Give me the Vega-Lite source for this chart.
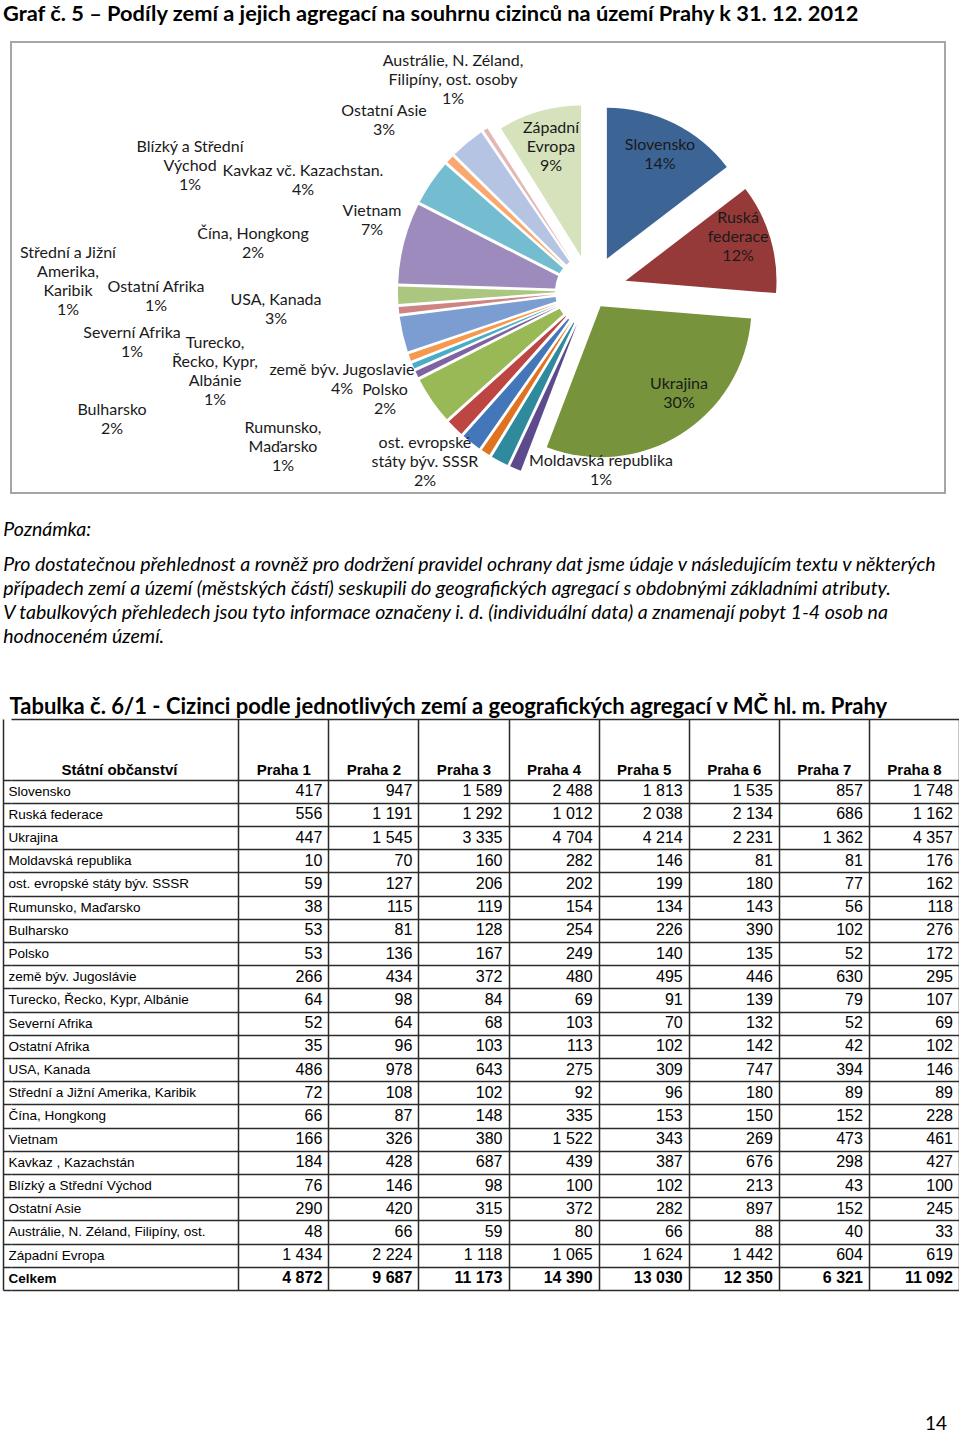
{
  "$schema": "https://vega.github.io/schema/vega-lite/v6.json",
  "background": "#ffffff",
  "padding": {"left": 2, "right": 0, "top": 3, "bottom": 0},
  "spacing": 26,
  "datasets": {
    "pie": [
      {"k": "Slovensko", "v": 14.6, "ord": 1, "lab": "Slovensko\n14%"},
      {"k": "Ruská federace", "v": 11.7, "ord": 2, "lab": "Ruská\nfederace\n12%"},
      {"k": "Ukrajina", "v": 29.5, "ord": 3, "lab": "Ukrajina\n30%"},
      {"k": "Moldavská republika", "v": 1.2, "ord": 4, "lab": "Moldavská republika\n1%"},
      {"k": "ost. evropské státy býv. SSSR", "v": 1.7, "ord": 5, "lab": "ost. evropské\nstáty býv. SSSR\n2%"},
      {"k": "Rumunsko, Maďarsko", "v": 1.0, "ord": 6, "lab": "Rumunsko,\nMaďarsko\n1%"},
      {"k": "Bulharsko", "v": 1.9, "ord": 7, "lab": "Bulharsko\n2%"},
      {"k": "Polsko", "v": 1.7, "ord": 8, "lab": "Polsko\n2%"},
      {"k": "země býv. Jugoslavie", "v": 4.2, "ord": 9, "lab": "země býv. Jugoslavie\n4%"},
      {"k": "Turecko, Řecko, Kypr, Albánie", "v": 0.8, "ord": 10, "lab": "Turecko,\nŘecko, Kypr,\nAlbánie\n1%"},
      {"k": "Severní Afrika", "v": 0.7, "ord": 11, "lab": "Severní Afrika\n1%"},
      {"k": "Ostatní Afrika", "v": 0.8, "ord": 12, "lab": "Ostatní Afrika\n1%"},
      {"k": "USA, Kanada", "v": 3.2, "ord": 13, "lab": "USA, Kanada\n3%"},
      {"k": "Střední a Jižní Amerika, Karibik", "v": 0.8, "ord": 14, "lab": "Střední a Jižní\nAmerika,\nKaribik\n1%"},
      {"k": "Čína, Hongkong", "v": 1.7, "ord": 15, "lab": "Čína, Hongkong\n2%"},
      {"k": "Vietnam", "v": 7.0, "ord": 16, "lab": "Vietnam\n7%"},
      {"k": "Kavkaz vč. Kazachstan.", "v": 4.0, "ord": 17, "lab": "Kavkaz vč. Kazachstan.\n4%"},
      {"k": "Blízký a Střední Východ", "v": 0.9, "ord": 18, "lab": "Blízký a Střední\nVýchod\n1%"},
      {"k": "Ostatní Asie", "v": 3.1, "ord": 19, "lab": "Ostatní Asie\n3%"},
      {"k": "Austrálie, N. Zéland, Filipíny, ost. osoby", "v": 0.6, "ord": 20, "lab": "Austrálie, N. Zéland,\nFilipíny, ost. osoby\n1%"},
      {"k": "Západní Evropa", "v": 8.9, "ord": 21, "lab": "Západní\nEvropa\n9%"}
    ],
    "tab": [
      {"n": "Slovensko", "Praha 1": 417, "Praha 2": 947, "Praha 3": 1589, "Praha 4": 2488, "Praha 5": 1813, "Praha 6": 1535, "Praha 7": 857, "Praha 8": 1748},
      {"n": "Ruská federace", "Praha 1": 556, "Praha 2": 1191, "Praha 3": 1292, "Praha 4": 1012, "Praha 5": 2038, "Praha 6": 2134, "Praha 7": 686, "Praha 8": 1162},
      {"n": "Ukrajina", "Praha 1": 447, "Praha 2": 1545, "Praha 3": 3335, "Praha 4": 4704, "Praha 5": 4214, "Praha 6": 2231, "Praha 7": 1362, "Praha 8": 4357},
      {"n": "Moldavská republika", "Praha 1": 10, "Praha 2": 70, "Praha 3": 160, "Praha 4": 282, "Praha 5": 146, "Praha 6": 81, "Praha 7": 81, "Praha 8": 176},
      {"n": "ost. evropské  státy býv. SSSR", "Praha 1": 59, "Praha 2": 127, "Praha 3": 206, "Praha 4": 202, "Praha 5": 199, "Praha 6": 180, "Praha 7": 77, "Praha 8": 162},
      {"n": "Rumunsko, Maďarsko", "Praha 1": 38, "Praha 2": 115, "Praha 3": 119, "Praha 4": 154, "Praha 5": 134, "Praha 6": 143, "Praha 7": 56, "Praha 8": 118},
      {"n": "Bulharsko", "Praha 1": 53, "Praha 2": 81, "Praha 3": 128, "Praha 4": 254, "Praha 5": 226, "Praha 6": 390, "Praha 7": 102, "Praha 8": 276},
      {"n": "Polsko", "Praha 1": 53, "Praha 2": 136, "Praha 3": 167, "Praha 4": 249, "Praha 5": 140, "Praha 6": 135, "Praha 7": 52, "Praha 8": 172},
      {"n": "země býv. Jugoslávie", "Praha 1": 266, "Praha 2": 434, "Praha 3": 372, "Praha 4": 480, "Praha 5": 495, "Praha 6": 446, "Praha 7": 630, "Praha 8": 295},
      {"n": "Turecko, Řecko, Kypr, Albánie", "Praha 1": 64, "Praha 2": 98, "Praha 3": 84, "Praha 4": 69, "Praha 5": 91, "Praha 6": 139, "Praha 7": 79, "Praha 8": 107},
      {"n": "Severní Afrika", "Praha 1": 52, "Praha 2": 64, "Praha 3": 68, "Praha 4": 103, "Praha 5": 70, "Praha 6": 132, "Praha 7": 52, "Praha 8": 69},
      {"n": "Ostatní Afrika", "Praha 1": 35, "Praha 2": 96, "Praha 3": 103, "Praha 4": 113, "Praha 5": 102, "Praha 6": 142, "Praha 7": 42, "Praha 8": 102},
      {"n": "USA, Kanada", "Praha 1": 486, "Praha 2": 978, "Praha 3": 643, "Praha 4": 275, "Praha 5": 309, "Praha 6": 747, "Praha 7": 394, "Praha 8": 146},
      {"n": "Střední a Jižní Amerika, Karibik", "Praha 1": 72, "Praha 2": 108, "Praha 3": 102, "Praha 4": 92, "Praha 5": 96, "Praha 6": 180, "Praha 7": 89, "Praha 8": 89},
      {"n": "Čína, Hongkong", "Praha 1": 66, "Praha 2": 87, "Praha 3": 148, "Praha 4": 335, "Praha 5": 153, "Praha 6": 150, "Praha 7": 152, "Praha 8": 228},
      {"n": "Vietnam", "Praha 1": 166, "Praha 2": 326, "Praha 3": 380, "Praha 4": 1522, "Praha 5": 343, "Praha 6": 269, "Praha 7": 473, "Praha 8": 461},
      {"n": "Kavkaz , Kazachstán", "Praha 1": 184, "Praha 2": 428, "Praha 3": 687, "Praha 4": 439, "Praha 5": 387, "Praha 6": 676, "Praha 7": 298, "Praha 8": 427},
      {"n": "Blízký a Střední Východ", "Praha 1": 76, "Praha 2": 146, "Praha 3": 98, "Praha 4": 100, "Praha 5": 102, "Praha 6": 213, "Praha 7": 43, "Praha 8": 100},
      {"n": "Ostatní Asie", "Praha 1": 290, "Praha 2": 420, "Praha 3": 315, "Praha 4": 372, "Praha 5": 282, "Praha 6": 897, "Praha 7": 152, "Praha 8": 245},
      {"n": "Austrálie, N. Zéland, Filipíny, ost.", "Praha 1": 48, "Praha 2": 66, "Praha 3": 59, "Praha 4": 80, "Praha 5": 66, "Praha 6": 88, "Praha 7": 40, "Praha 8": 33},
      {"n": "Západní Evropa", "Praha 1": 1434, "Praha 2": 2224, "Praha 3": 1118, "Praha 4": 1065, "Praha 5": 1624, "Praha 6": 1442, "Praha 7": 604, "Praha 8": 619},
      {"n": "Celkem", "Praha 1": 4872, "Praha 2": 9687, "Praha 3": 11173, "Praha 4": 14390, "Praha 5": 13030, "Praha 6": 12350, "Praha 7": 6321, "Praha 8": 11092}
    ]
  },
  "title": {"text": "14", "orient": "bottom", "anchor": "end", "font": "Lato", "fontSize": 19, "fontWeight": "normal", "color": "#000000", "offset": 124, "dx": -12},
  "config": {
    "font": "Lato",
    "view": {"stroke": null},
    "locale": {"number": {"decimal": ",", "thousands": " ", "grouping": [3], "currency": ["", " Kč"]}},
    "title": {"color": "#000000"},
    "axis": {"labelColor": "#000000", "titleColor": "#000000"},
    "text": {"font": "Lato", "fontSize": 16, "lineHeight": 19, "lineBreak": "\n", "align": "center", "baseline": "middle"}
  },
  "vconcat": [
    {
      "width": 934,
      "height": 451,
      "view": {"stroke": "#a6a6a6", "strokeWidth": 2},
      "title": {"text": "Graf č. 5 – Podíly zemí a jejich agregací na souhrnu cizinců na území Prahy k 31. 12. 2012", "anchor": "start", "dx": -8, "font": "Lato", "fontSize": 21.8, "fontWeight": "bold", "color": "#000000", "offset": 16},
      "data": {"name": "pie"},
      "encoding": {
        "theta": {"field": "v", "type": "quantitative", "stack": true},
        "order": {"field": "ord", "type": "quantitative"},
        "color": {"field": "k", "type": "nominal", "legend": null, "scale": {
          "domain": ["Slovensko", "Ruská federace", "Ukrajina", "Moldavská republika", "ost. evropské státy býv. SSSR", "Rumunsko, Maďarsko", "Bulharsko", "Polsko", "země býv. Jugoslavie", "Turecko, Řecko, Kypr, Albánie", "Severní Afrika", "Ostatní Afrika", "USA, Kanada", "Střední a Jižní Amerika, Karibik", "Čína, Hongkong", "Vietnam", "Kavkaz vč. Kazachstan.", "Blízký a Střední Východ", "Ostatní Asie", "Austrálie, N. Zéland, Filipíny, ost. osoby", "Západní Evropa"],
          "range": ["#3c6596", "#953a39", "#77933c", "#5c4a8c", "#2f8a9e", "#e0731f", "#4477b9", "#bd4643", "#98b955", "#7e62a1", "#4aacc6", "#f6984d", "#7c9dd1", "#cd8482", "#abc67e", "#9d8bbd", "#74bdd1", "#f9a96d", "#b5c4e2", "#e3b7b6", "#d5e2bc"]
        }}
      },
      "layer": [
        {"mark": {"type": "arc", "innerRadius": 36, "outerRadius": 193, "padAngle": 0.015, "xOffset": 113, "yOffset": 23.5},
         "encoding": {"opacity": {"condition": {"test": "indexof(['Slovensko','Ruská federace','Ukrajina','Západní Evropa'], datum.k) >= 0", "value": 0}, "value": 1}}},
        {"mark": {"type": "arc", "outerRadius": 151, "xOffset": 128.9, "yOffset": -8.8},
         "encoding": {"opacity": {"condition": {"test": "datum.k === 'Slovensko'", "value": 1}, "value": 0}}},
        {"mark": {"type": "arc", "outerRadius": 151, "xOffset": 147.5, "yOffset": 13.3},
         "encoding": {"opacity": {"condition": {"test": "datum.k === 'Ruská federace'", "value": 1}, "value": 0}}},
        {"mark": {"type": "arc", "outerRadius": 151, "xOffset": 122.6, "yOffset": 38.7},
         "encoding": {"opacity": {"condition": {"test": "datum.k === 'Ukrajina'", "value": 1}, "value": 0}}},
        {"mark": {"type": "arc", "outerRadius": 151, "xOffset": 103.1, "yOffset": -11.1},
         "encoding": {"opacity": {"condition": {"test": "datum.k === 'Západní Evropa'", "value": 1}, "value": 0}}},

        {"mark": {"type": "text", "radius": 100, "xOffset": 128.9, "yOffset": -8.8, "dx": 8.8, "dy": -24.5},
         "encoding": {"color": {"value": "#1a1a1a"}, "detail": {"field": "k"}, "text": {"condition": {"test": "datum.k === 'Slovensko'", "field": "lab", "type": "nominal"}, "value": ""}}},
        {"mark": {"type": "text", "radius": 100, "xOffset": 147.5, "yOffset": 13.3, "dx": 16.6, "dy": -34.1},
         "encoding": {"color": {"value": "#1a1a1a"}, "detail": {"field": "k"}, "text": {"condition": {"test": "datum.k === 'Ruská federace'", "field": "lab", "type": "nominal"}, "value": ""}}},
        {"mark": {"type": "text", "radius": 100, "xOffset": 122.6, "yOffset": 38.7, "dx": 25.1, "dy": -6.8},
         "encoding": {"color": {"value": "#1a1a1a"}, "detail": {"field": "k"}, "text": {"condition": {"test": "datum.k === 'Ukrajina'", "field": "lab", "type": "nominal"}, "value": ""}}},
        {"mark": {"type": "text", "radius": 100, "xOffset": 103.1, "yOffset": -11.1, "dx": -2.5, "dy": -32.3},
         "encoding": {"color": {"value": "#1a1a1a"}, "detail": {"field": "k"}, "text": {"condition": {"test": "datum.k === 'Západní Evropa'", "field": "lab", "type": "nominal"}, "value": ""}}},

        {"mark": {"type": "text", "radius": 175, "xOffset": 113, "yOffset": 23.5, "dx": 78.5, "dy": 9},
         "encoding": {"color": {"value": "#1a1a1a"}, "detail": {"field": "k"}, "text": {"condition": {"test": "datum.k === 'Moldavská republika'", "field": "lab", "type": "nominal"}, "value": ""}}},
        {"mark": {"type": "text", "radius": 175, "xOffset": 113, "yOffset": 23.5, "dx": -83.2, "dy": -2.1},
         "encoding": {"color": {"value": "#1a1a1a"}, "detail": {"field": "k"}, "text": {"condition": {"test": "datum.k === 'ost. evropské státy býv. SSSR'", "field": "lab", "type": "nominal"}, "value": ""}}},
        {"mark": {"type": "text", "radius": 175, "xOffset": 113, "yOffset": 23.5, "dx": -212.4, "dy": -9.1},
         "encoding": {"color": {"value": "#1a1a1a"}, "detail": {"field": "k"}, "text": {"condition": {"test": "datum.k === 'Rumunsko, Maďarsko'", "field": "lab", "type": "nominal"}, "value": ""}}},
        {"mark": {"type": "text", "radius": 175, "xOffset": 113, "yOffset": 23.5, "dx": -370.4, "dy": -17.8},
         "encoding": {"color": {"value": "#1a1a1a"}, "detail": {"field": "k"}, "text": {"condition": {"test": "datum.k === 'Bulharsko'", "field": "lab", "type": "nominal"}, "value": ""}}},
        {"mark": {"type": "text", "radius": 175, "xOffset": 113, "yOffset": 23.5, "dx": -82.6, "dy": -25.1},
         "encoding": {"color": {"value": "#1a1a1a"}, "detail": {"field": "k"}, "text": {"condition": {"test": "datum.k === 'Polsko'", "field": "lab", "type": "nominal"}, "value": ""}}},
        {"mark": {"type": "text", "radius": 175, "xOffset": 113, "yOffset": 23.5, "dx": -104.9, "dy": -19.8},
         "encoding": {"color": {"value": "#1a1a1a"}, "detail": {"field": "k"}, "text": {"condition": {"test": "datum.k === 'země býv. Jugoslavie'", "field": "lab", "type": "nominal"}, "value": ""}}},
        {"mark": {"type": "text", "radius": 175, "xOffset": 113, "yOffset": 23.5, "dx": -218.1, "dy": -24},
         "encoding": {"color": {"value": "#1a1a1a"}, "detail": {"field": "k"}, "text": {"condition": {"test": "datum.k === 'Turecko, Řecko, Kypr, Albánie'", "field": "lab", "type": "nominal"}, "value": ""}}},
        {"mark": {"type": "text", "radius": 175, "xOffset": 113, "yOffset": 23.5, "dx": -297.7, "dy": -26},
         "encoding": {"color": {"value": "#1a1a1a"}, "detail": {"field": "k"}, "text": {"condition": {"test": "datum.k === 'Severní Afrika'", "field": "lab", "type": "nominal"}, "value": ""}}},
        {"mark": {"type": "text", "radius": 175, "xOffset": 113, "yOffset": 23.5, "dx": -270.7, "dy": -64.3},
         "encoding": {"color": {"value": "#1a1a1a"}, "detail": {"field": "k"}, "text": {"condition": {"test": "datum.k === 'Ostatní Afrika'", "field": "lab", "type": "nominal"}, "value": ""}}},
        {"mark": {"type": "text", "radius": 175, "xOffset": 113, "yOffset": 23.5, "dx": -144.5, "dy": -30.3},
         "encoding": {"color": {"value": "#1a1a1a"}, "detail": {"field": "k"}, "text": {"condition": {"test": "datum.k === 'USA, Kanada'", "field": "lab", "type": "nominal"}, "value": ""}}},
        {"mark": {"type": "text", "radius": 175, "xOffset": 113, "yOffset": 23.5, "dx": -348.9, "dy": -55.6},
         "encoding": {"color": {"value": "#1a1a1a"}, "detail": {"field": "k"}, "text": {"condition": {"test": "datum.k === 'Střední a Jižní Amerika, Karibik'", "field": "lab", "type": "nominal"}, "value": ""}}},
        {"mark": {"type": "text", "radius": 175, "xOffset": 113, "yOffset": 23.5, "dx": -163, "dy": -60.8},
         "encoding": {"color": {"value": "#1a1a1a"}, "detail": {"field": "k"}, "text": {"condition": {"test": "datum.k === 'Čína, Hongkong'", "field": "lab", "type": "nominal"}, "value": ""}}},
        {"mark": {"type": "text", "radius": 175, "xOffset": 113, "yOffset": 23.5, "dx": -49.5, "dy": -36.5},
         "encoding": {"color": {"value": "#1a1a1a"}, "detail": {"field": "k"}, "text": {"condition": {"test": "datum.k === 'Vietnam'", "field": "lab", "type": "nominal"}, "value": ""}}},
        {"mark": {"type": "text", "radius": 175, "xOffset": 113, "yOffset": 23.5, "dx": -143.3, "dy": -21.6},
         "encoding": {"color": {"value": "#1a1a1a"}, "detail": {"field": "k"}, "text": {"condition": {"test": "datum.k === 'Kavkaz vč. Kazachstan.'", "field": "lab", "type": "nominal"}, "value": ""}}},
        {"mark": {"type": "text", "radius": 175, "xOffset": 113, "yOffset": 23.5, "dx": -273, "dy": -24.6},
         "encoding": {"color": {"value": "#1a1a1a"}, "detail": {"field": "k"}, "text": {"condition": {"test": "datum.k === 'Blízký a Střední Východ'", "field": "lab", "type": "nominal"}, "value": ""}}},
        {"mark": {"type": "text", "radius": 175, "xOffset": 113, "yOffset": 23.5, "dx": -95, "dy": -45.5},
         "encoding": {"color": {"value": "#1a1a1a"}, "detail": {"field": "k"}, "text": {"condition": {"test": "datum.k === 'Ostatní Asie'", "field": "lab", "type": "nominal"}, "value": ""}}},
        {"mark": {"type": "text", "radius": 90, "xOffset": 113, "yOffset": 23.5, "dx": -88.8, "dy": -154.6},
         "encoding": {"color": {"value": "#1a1a1a"}, "detail": {"field": "k"}, "text": {"condition": {"test": "datum.k === 'Austrálie, N. Zéland, Filipíny, ost. osoby'", "field": "lab", "type": "nominal"}, "value": ""}}}
      ]
    },
    {
      "width": 948,
      "height": 571,
      "data": {"name": "tab"},
      "transform": [{"fold": ["Praha 1", "Praha 2", "Praha 3", "Praha 4", "Praha 5", "Praha 6", "Praha 7", "Praha 8"], "as": ["col", "val"]}],
      "title": {
        "text": "Poznámka:",
        "subtitle": [
          "Pro dostatečnou přehlednost a rovněž pro dodržení pravidel ochrany dat jsme údaje v následujícím textu v některých",
          "případech zemí a území (městských částí) seskupili do geografických agregací s obdobnými základními atributy.",
          "V tabulkových přehledech jsou tyto informace označeny i. d. (individuální data) a znamenají pobyt 1-4 osob na",
          "hodnoceném území."
        ],
        "anchor": "start", "dx": 1,
        "font": "Lato", "fontSize": 19.5, "fontStyle": "italic", "fontWeight": "normal", "color": "#000000",
        "subtitleFont": "Lato", "subtitleFontSize": 19.5, "subtitleFontStyle": "italic", "subtitleColor": "#000000", "subtitleLineHeight": 24, "subtitlePadding": 15,
        "offset": 48
      },
      "encoding": {
        "x": {"field": "col", "type": "nominal", "bandPosition": 1,
          "scale": {"domain": [" ", "Praha 1", "Praha 2", "Praha 3", "Praha 4", "Praha 5", "Praha 6", "Praha 7", "Praha 8"], "paddingInner": 0, "paddingOuter": 0.761, "align": 1},
          "axis": {
            "orient": "top", "domain": true, "domainColor": "#2b2b2b", "domainWidth": 1.5, "ticks": false,
            "values": ["Praha 1", "Praha 2", "Praha 3", "Praha 4", "Praha 5", "Praha 6", "Praha 7", "Praha 8"],
            "grid": true, "tickBand": "extent", "gridColor": "#2b2b2b", "gridWidth": 1.5, "gridOpacity": 1,
            "labelAngle": 0, "labelFont": "Liberation Sans", "labelFontSize": 15, "labelFontWeight": "bold", "labelColor": "#000000",
            "labelPadding": -55, "labelBaseline": "alphabetic",
            "title": "Tabulka č. 6/1 - Cizinci podle jednotlivých zemí a geografických agregací v MČ hl. m. Prahy",
            "titleFont": "Lato", "titleFontSize": 22, "titleFontWeight": "bold", "titleColor": "#000000",
            "titleAnchor": "start", "titleAlign": "left", "titleX": -2, "titleY": -6, "titleBaseline": "alphabetic"
          }},
        "y": {"field": "n", "type": "nominal",
          "scale": {"domain": [" ", "Slovensko", "Ruská federace", "Ukrajina", "Moldavská republika", "ost. evropské  státy býv. SSSR", "Rumunsko, Maďarsko", "Bulharsko", "Polsko", "země býv. Jugoslávie", "Turecko, Řecko, Kypr, Albánie", "Severní Afrika", "Ostatní Afrika", "USA, Kanada", "Střední a Jižní Amerika, Karibik", "Čína, Hongkong", "Vietnam", "Kavkaz , Kazachstán", "Blízký a Střední Východ", "Ostatní Asie", "Austrálie, N. Zéland, Filipíny, ost.", "Západní Evropa", "Celkem"], "paddingInner": 0, "paddingOuter": 0.804, "align": 1},
          "axis": {
            "orient": "left", "offset": 8,
            "domain": true, "domainColor": "#2b2b2b", "domainWidth": 1.5,
            "ticks": true, "tickSize": -8, "tickColor": "#2b2b2b", "tickWidth": 1.5,
            "values": ["Slovensko", "Ruská federace", "Ukrajina", "Moldavská republika", "ost. evropské  státy býv. SSSR", "Rumunsko, Maďarsko", "Bulharsko", "Polsko", "země býv. Jugoslávie", "Turecko, Řecko, Kypr, Albánie", "Severní Afrika", "Ostatní Afrika", "USA, Kanada", "Střední a Jižní Amerika, Karibik", "Čína, Hongkong", "Vietnam", "Kavkaz , Kazachstán", "Blízký a Střední Východ", "Ostatní Asie", "Austrálie, N. Zéland, Filipíny, ost.", "Západní Evropa", "Celkem"],
            "grid": true, "tickBand": "extent", "gridColor": "#2b2b2b", "gridWidth": 1.5, "gridOpacity": 1,
            "labelAlign": "left", "labelPadding": 3, "labelFont": "Liberation Sans", "labelFontSize": 13.5, "labelColor": "#000000", "labelLimit": 240, "labelBaseline": "middle",
            "labelFontWeight": {"condition": {"test": "datum.value === 'Celkem'", "value": "bold"}, "value": "normal"},
            "title": "Státní občanství", "titleAngle": 0, "titleX": 116, "titleY": 55, "titleAlign": "center", "titleBaseline": "alphabetic",
            "titleFont": "Liberation Sans", "titleFontSize": 15, "titleFontWeight": "bold", "titleColor": "#000000"
          }}
      },
      "layer": [
        {"transform": [{"filter": "datum.n !== 'Celkem'"}],
         "mark": {"type": "text", "align": "right", "baseline": "middle", "dx": -6, "font": "Liberation Sans", "fontSize": 16, "color": "#000000"},
         "encoding": {"text": {"field": "val", "type": "quantitative", "format": ",d"}}},
        {"transform": [{"filter": "datum.n === 'Celkem'"}],
         "mark": {"type": "text", "align": "right", "baseline": "middle", "dx": -6, "font": "Liberation Sans", "fontSize": 16, "fontWeight": "bold", "color": "#000000"},
         "encoding": {"text": {"field": "val", "type": "quantitative", "format": ",d"}}}
      ]
    }
  ]
}
